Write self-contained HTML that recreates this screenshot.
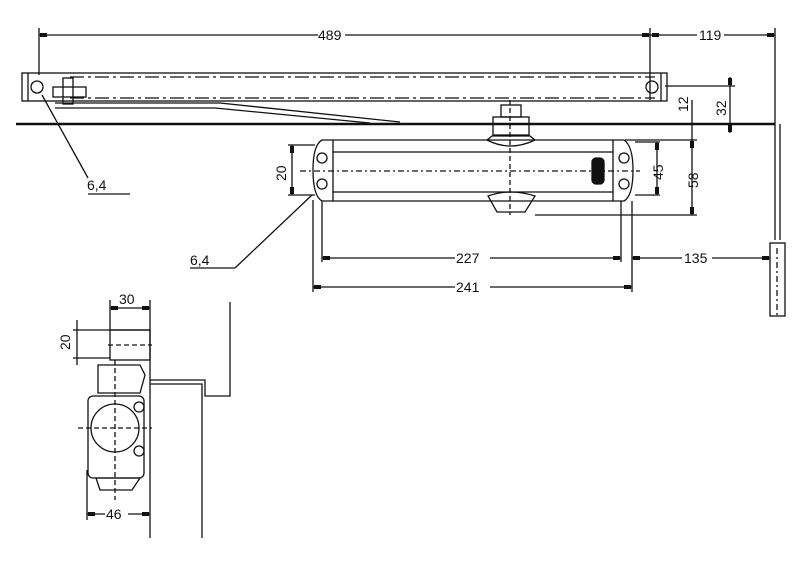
<!DOCTYPE html>
<html><head><meta charset="utf-8"><style>
html,body{margin:0;padding:0;background:#fff;}
svg{display:block;font-family:"Liberation Sans",sans-serif;}
text{font-size:14px;fill:#111;}
</style></head><body>
<svg width="800" height="566" viewBox="0 0 800 566" xmlns="http://www.w3.org/2000/svg">
<g stroke="#111" stroke-width="1.3" fill="none">
<!-- top dims -->
<line x1="39" y1="35" x2="318" y2="35"/><line x1="345" y1="35" x2="650" y2="35"/>
<line x1="650" y1="35" x2="697" y2="35"/><line x1="724" y1="35" x2="775" y2="35"/>
<line x1="39" y1="28" x2="39" y2="75"/><line x1="650" y1="28" x2="650" y2="100"/>
<line x1="775" y1="28" x2="775" y2="124"/>
<!-- arm -->
<rect x="22" y="73" width="645" height="28"/>
<line x1="28" y1="73" x2="28" y2="101"/><line x1="661" y1="73" x2="661" y2="101"/>
<line x1="70" y1="77" x2="655" y2="77" stroke-dasharray="14,4,3,4"/>
<line x1="70" y1="98" x2="655" y2="98" stroke-dasharray="14,4,3,4"/>
<circle cx="37" cy="87" r="6"/><circle cx="652" cy="87" r="6"/>
<rect x="53" y="87" width="33" height="10"/><rect x="63" y="78" width="10" height="26"/>
<path d="M55 103 L220 103 L400 122"/><path d="M55 108 L215 108 L370 123"/>
<line x1="16" y1="124" x2="775" y2="124" stroke-width="2.5"/>
<line x1="775" y1="124" x2="775" y2="240"/><line x1="780" y1="124" x2="780" y2="240"/>
<rect x="770" y="243" width="15" height="73"/>
<line x1="777" y1="248" x2="777" y2="316" stroke-dasharray="6,3,2,3"/>
<!-- pinion -->
<rect x="501" y="105" width="20" height="12"/><rect x="493" y="117" width="36" height="18"/>
<path d="M487 140 Q510 152 535 140 L530 136 L492 136 Z"/>
<!-- body -->
<line x1="333" y1="140" x2="613" y2="140"/><line x1="333" y1="152" x2="613" y2="152"/>
<line x1="333" y1="192" x2="613" y2="192"/><line x1="333" y1="201" x2="613" y2="201"/>
<path d="M333 140 L322 140 Q313 145 313 170 Q313 196 322 201 L333 201 Z"/>
<path d="M613 140 L624 140 Q633 146 633 170 Q633 196 624 201 L613 201 Z"/>
<circle cx="322" cy="158" r="5"/><circle cx="322" cy="184" r="5"/>
<circle cx="624" cy="158" r="5"/><circle cx="624" cy="184" r="5"/>
<line x1="300" y1="171" x2="640" y2="171" stroke-dasharray="6,3,2,3"/>
<line x1="510" y1="100" x2="510" y2="215" stroke-dasharray="5,3"/>
<rect x="592" y="158" width="12" height="26" rx="4" fill="#111"/>
<path d="M488 196 Q510 188 535 196 L525 212 L497 212 Z"/>
<!-- right dims -->
<line x1="635" y1="142" x2="660" y2="142"/><line x1="635" y1="195" x2="660" y2="195"/>
<line x1="657" y1="142" x2="657" y2="195"/>
<line x1="535" y1="215" x2="697" y2="215"/><line x1="625" y1="140" x2="697" y2="140"/>
<line x1="692" y1="100" x2="692" y2="215"/>
<line x1="665" y1="86" x2="735" y2="86"/><line x1="730" y1="77" x2="730" y2="133"/>
<!-- bottom dims -->
<line x1="313" y1="200" x2="313" y2="292"/><line x1="322" y1="201" x2="322" y2="262"/>
<line x1="621" y1="201" x2="621" y2="262"/><line x1="632" y1="201" x2="632" y2="292"/>
<line x1="322" y1="258" x2="455" y2="258"/><line x1="490" y1="258" x2="621" y2="258"/>
<line x1="632" y1="258" x2="682" y2="258"/><line x1="712" y1="258" x2="770" y2="258"/>
<line x1="313" y1="287" x2="455" y2="287"/><line x1="490" y1="287" x2="632" y2="287"/>
<!-- 20 left -->
<line x1="288" y1="145" x2="315" y2="145"/><line x1="288" y1="195" x2="315" y2="195"/>
<line x1="292" y1="145" x2="292" y2="195"/>
<!-- leaders -->
<line x1="42" y1="95" x2="88" y2="178"/><line x1="88" y1="194" x2="130" y2="194"/>
<line x1="312" y1="195" x2="235" y2="268"/><line x1="190" y1="268" x2="235" y2="268"/>
<!-- side view -->
<line x1="110" y1="300" x2="110" y2="330"/><line x1="150" y1="300" x2="150" y2="538"/>
<line x1="110" y1="308" x2="150" y2="308"/>
<line x1="73" y1="330" x2="150" y2="330"/><line x1="73" y1="358" x2="110" y2="358"/>
<line x1="77" y1="320" x2="77" y2="365"/>
<rect x="110" y="330" width="40" height="30"/>
<line x1="108" y1="345" x2="152" y2="345" stroke-dasharray="5,3"/>
<path d="M98 365 L140 365 L145 375 L140 393 L98 393 Z"/>
<path d="M150 380 L205 380 L205 396 L230 396 L230 302"/>
<path d="M150 384 L202 384 L202 538"/>
<rect x="88" y="396" width="56" height="82" rx="5"/>
<circle cx="115" cy="428" r="24"/>
<line x1="115" y1="360" x2="115" y2="500" stroke-dasharray="5,3"/>
<line x1="78" y1="428" x2="152" y2="428" stroke-dasharray="5,3"/>
<circle cx="139" cy="407" r="5"/><circle cx="139" cy="451" r="5"/>
<path d="M96 478 L140 478 L132 490 L100 490 Z"/>
<line x1="87" y1="470" x2="87" y2="520"/>
<line x1="87" y1="514" x2="105" y2="514"/><line x1="128" y1="514" x2="150" y2="514"/>
</g>
<g fill="#111">
<rect x="40" y="33" width="7" height="4"/><rect x="642" y="33" width="7" height="4"/>
<rect x="652" y="33" width="7" height="4"/><rect x="767" y="33" width="7" height="4"/>
<rect x="323" y="256" width="7" height="4"/><rect x="613" y="256" width="7" height="4"/>
<rect x="633" y="256" width="7" height="4"/><rect x="762" y="256" width="7" height="4"/>
<rect x="314" y="285" width="7" height="4"/><rect x="624" y="285" width="7" height="4"/>
<rect x="290" y="146" width="4" height="7"/><rect x="290" y="187" width="4" height="7"/>
<rect x="655" y="143" width="4" height="7"/><rect x="655" y="187" width="4" height="7"/>
<rect x="690" y="141" width="4" height="7"/><rect x="690" y="207" width="4" height="7"/>
<rect x="728" y="78" width="4" height="7"/><rect x="728" y="125" width="4" height="7"/>
<rect x="111" y="306" width="7" height="4"/><rect x="142" y="306" width="7" height="4"/>
<rect x="88" y="512" width="7" height="4"/><rect x="142" y="512" width="7" height="4"/>
<text x="318" y="40">489</text>
<text x="699" y="40">119</text>
<text x="456" y="263">227</text>
<text x="684" y="263">135</text>
<text x="456" y="292">241</text>
<text x="87" y="190">6,4</text>
<text x="190" y="265">6,4</text>
<text x="119" y="304">30</text>
<text x="106" y="519">46</text>
<text transform="translate(286,181) rotate(-90)">20</text>
<text transform="translate(70,350) rotate(-90)">20</text>
<text transform="translate(663,180) rotate(-90)">45</text>
<text transform="translate(698,188) rotate(-90)">58</text>
<text transform="translate(688,112) rotate(-90)">12</text>
<text transform="translate(726,116) rotate(-90)">32</text>
</g>
</svg>
</body></html>
